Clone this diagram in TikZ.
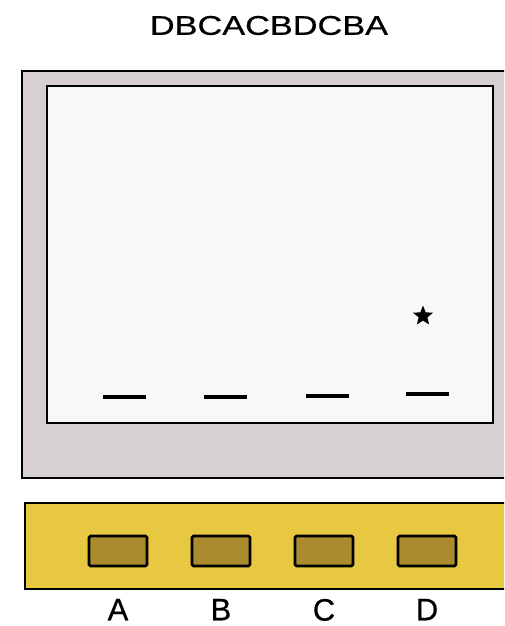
\documentclass[tikz,border=0pt]{standalone}
\usepackage{fontspec}
\setmainfont{Liberation Sans}
\newfontfamily\gelfont[FakeBold=0.5]{Liberation Sans}
\usepackage{xcolor}
\usetikzlibrary{positioning,shapes.geometric}

\definecolor{gelgray}{RGB}{214,208,208}
\definecolor{gelwhite}{RGB}{246,248,250}
\definecolor{stripyellow}{RGB}{232,200,64}
\definecolor{wellolive}{RGB}{170,140,46}

\begin{document}
\begin{tikzpicture}[x=1pt,y=-1pt,
        well/.style={draw=black, line width=2.8pt, fill=wellolive, minimum width=58pt, minimum height=30pt, rounded corners=1.5pt, inner sep=0pt},
        band/.style={fill=black, minimum width=43pt, minimum height=3.5pt, inner sep=0pt},
        lane/.style={font=\gelfont\fontsize{31}{32}\selectfont}]
    \clip (0,0) rectangle (504,626);
    \node[font=\gelfont\fontsize{27}{28}\selectfont, xscale=1.27] (title) at (269,25.5) {DBCACBDCBA};
    % gel
    \draw[line width=2.2pt, fill=gelgray] (22,71) rectangle (530,478);
    \draw[line width=2.2pt, fill=gelwhite] (47,86) rectangle (493,423);
    \foreach \name/\x/\y in {A/124/397, B/225/397, C/327/396, D/427/394}
        \node[band] (band\name) at (\x,\y) {};
    \node[star, star points=5, star point ratio=2.3, fill=black, minimum size=21pt, inner sep=0pt] (spot) at (423,316) {};
    % strip
    \draw[line width=2.2pt, fill=stripyellow] (25,503) rectangle (530,589);
    \foreach \name/\x in {A/118, B/221, C/324, D/427} {
        \node[well] (well\name) at (\x,551) {};
        \node[lane, below=28pt of well\name] (lbl\name) {\name};
    }
\end{tikzpicture}
\end{document}
